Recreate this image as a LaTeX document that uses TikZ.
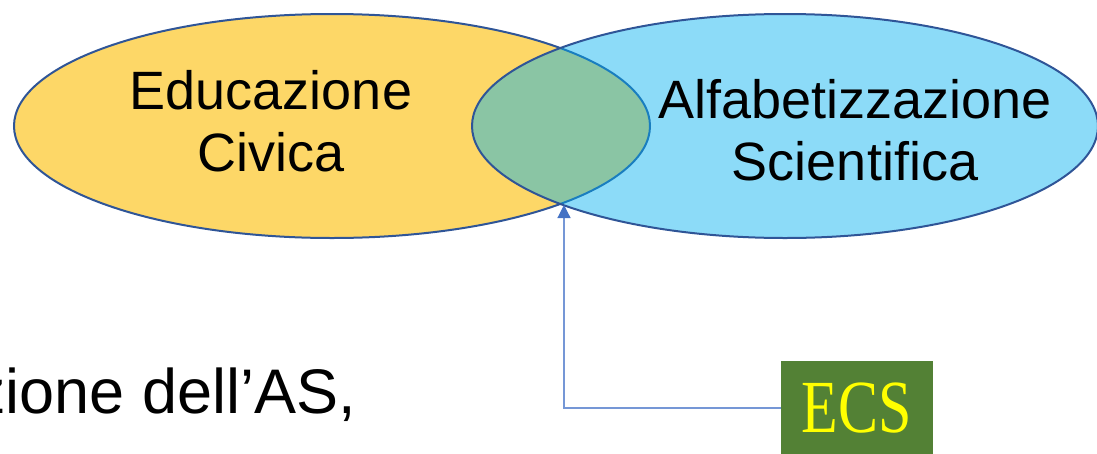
\documentclass[tikz,border=0pt]{standalone}
\usepackage{fontspec}
\setmainfont{Liberation Sans}
\newfontfamily\serifecs{Liberation Serif}
\usetikzlibrary{arrows.meta}
\definecolor{yel}{HTML}{FDD767}
\definecolor{sky}{HTML}{00B0F0}
\definecolor{edge}{HTML}{2F5597}
\definecolor{conn}{RGB}{117,151,214}
\definecolor{tipc}{HTML}{4472C4}
\definecolor{ecsgreen}{HTML}{538135}
\definecolor{ecsyel}{HTML}{FFFF00}
\tikzset{
  venn/.style={draw=edge, line width=2pt},
  label54/.style={font=\fontsize{54}{62}\selectfont, align=center, inner sep=0pt, text=black},
  ecsbox/.style={fill=ecsgreen, minimum width=152pt, minimum height=94pt, inner sep=0pt,
     font=\serifecs\fontsize{75}{80}\selectfont, text=ecsyel},
  conline/.style={draw=conn, line width=1.2pt, -{Triangle[length=13pt,width=13pt,color=tipc]}},
}
\begin{document}
\begin{tikzpicture}[x=1pt,y=-1pt]
\useasboundingbox (0,0) rectangle (1097,453);
\clip (0,0) rectangle (1097,453);
% left ellipse
\fill[yel] (332,126) ellipse [x radius=318, y radius=112];
\draw[venn] (332,126) ellipse [x radius=318, y radius=112];
% right ellipse (semi-transparent)
\fill[sky, fill opacity=0.45] (785,126) ellipse [x radius=313, y radius=112];
\draw[venn] (785,126) ellipse [x radius=313, y radius=112];
% labels
\node[label54] (ec) at (271,121.5) {Educazione\\Civica};
\node[label54] (as) at (855,130) {Alfabetizzazione\\Scientifica};
% bottom text (cut at the left edge, as in the reference)
\node[font=\fontsize{63}{70}\selectfont, inner sep=0pt, anchor=base east] (txt) at (356,413) {zione dell’AS,};
% ECS box
\node[ecsbox] (ecs) at (857,408) {\scalebox{0.8}[1]{ECS}};
\coordinate (meet) at (564,205);
\draw[conline] (ecs.west) -| (meet);
\end{tikzpicture}
\end{document}
